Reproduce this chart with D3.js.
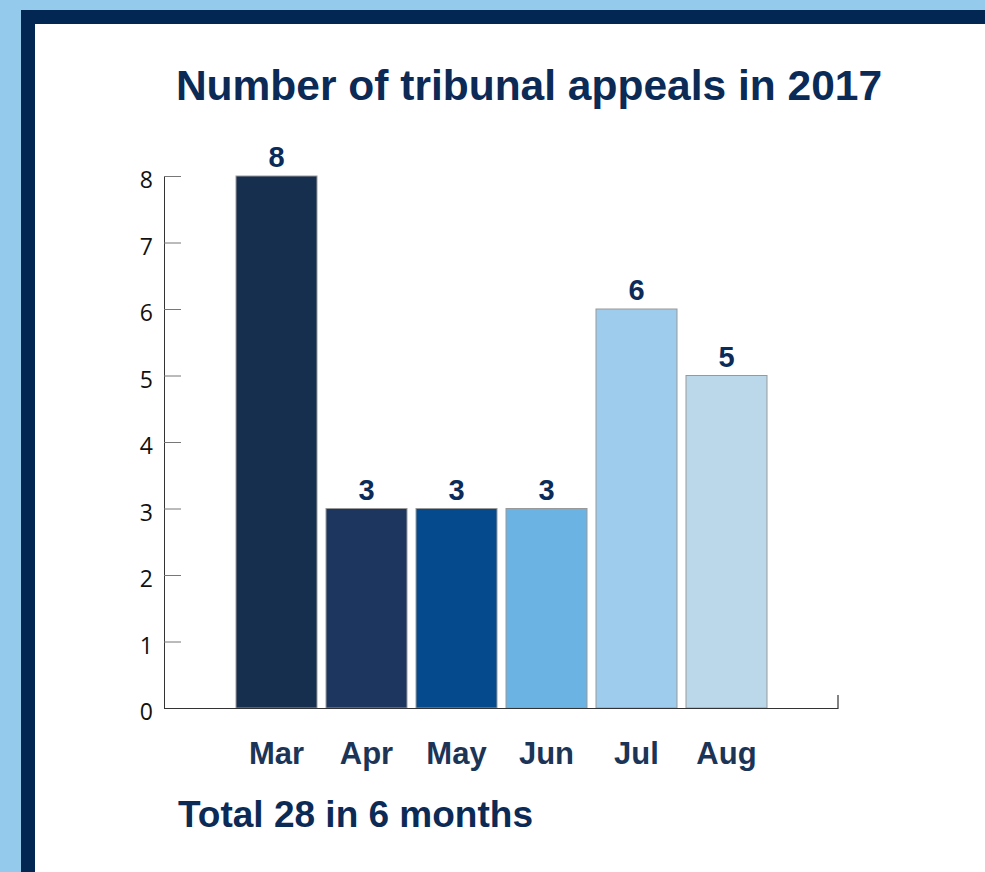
<!DOCTYPE html>
<html>
<head>
<meta charset="utf-8">
<script src="https://cdn.jsdelivr.net/npm/d3@7"></script>
<style>
  html, body { margin: 0; padding: 0; background: #94caec; }
  svg { display: block; }
</style>
</head>
<body>
<div id="chart"></div>
<script>
// data
const months = ['Mar', 'Apr', 'May', 'Jun', 'Jul', 'Aug'];
const appeals = [8, 3, 3, 3, 6, 5];
const barColors = ['#172f4e', '#1d3660', '#054a8d', '#6bb3e3', '#9dcced', '#bbd8eb'];
const yTicks = [0, 1, 2, 3, 4, 5, 6, 7, 8];
const title = 'Number of tribunal appeals in 2017';
const footer = 'Total 28 in 6 months';

const width = 985;
const height = 872;

const svg = d3.select('#chart').append('svg')
    .attr('width', width)
    .attr('height', height);

// frame
svg.append('rect')
    .attr('x', 0).attr('y', 0)
    .attr('width', width).attr('height', height)
    .attr('fill', '#94caec');
svg.append('rect')
    .attr('x', 21).attr('y', 10)
    .attr('width', width).attr('height', height)
    .attr('fill', '#022753');
svg.append('rect')
    .attr('x', 35).attr('y', 24)
    .attr('width', width).attr('height', height)
    .attr('fill', '#ffffff');

const x = d3.scaleBand()
    .domain(months)
    .range([231.5, 771.5])
    .paddingInner(0.1)
    .paddingOuter(0.05);

const y = d3.scaleLinear()
    .domain([0, 8])
    .range([708, 176]);

const axisLeft = 164;
const axisRight = 838;

svg.append('text')
    .attr('x', 529)
    .attr('y', 100)
    .attr('text-anchor', 'middle')
    .attr('font-family', '"Liberation Sans", Arial, sans-serif')
    .attr('font-weight', 'bold')
    .attr('font-size', 42.5)
    .attr('fill', '#0c2a56')
    .text(title);

// y axis, ticks pointing inward
const yAxis = svg.append('g')
    .attr('transform', `translate(${axisLeft},0)`)
    .call(d3.axisLeft(y).tickValues(yTicks).tickSizeInner(-17).tickSizeOuter(0).tickPadding(11));
yAxis.select('.domain').attr('stroke', '#333');
yAxis.selectAll('.tick line').attr('stroke', '#777');
yAxis.selectAll('.tick text')
    .attr('font-family', '"Open Sans", "Liberation Sans", sans-serif')
    .attr('font-size', 23)
    .attr('fill', '#111')
    .attr('dy', '0.5em');

// bars
svg.append('g')
    .selectAll('rect')
    .data(appeals)
    .join('rect')
    .attr('x', (d, i) => x(months[i]))
    .attr('y', d => y(d))
    .attr('width', x.bandwidth())
    .attr('height', d => y(0) - y(d))
    .attr('fill', (d, i) => barColors[i])
    .attr('stroke', '#999')
    .attr('stroke-width', 1);

// baseline with small end tick
svg.append('path')
    .attr('d', `M${axisLeft},${y(0) + 0.5}H${axisRight}V${y(0) - 13}`)
    .attr('fill', 'none')
    .attr('stroke', '#333')
    .attr('stroke-width', 1.2);

// value labels
svg.append('g')
    .selectAll('text')
    .data(appeals)
    .join('text')
    .attr('x', (d, i) => x(months[i]) + x.bandwidth() / 2)
    .attr('y', d => y(d) - 9)
    .attr('text-anchor', 'middle')
    .attr('font-family', '"Liberation Sans", Arial, sans-serif')
    .attr('font-weight', 'bold')
    .attr('font-size', 29)
    .attr('fill', '#0b2c5a')
    .text(d => d);

// month labels
svg.append('g')
    .selectAll('text')
    .data(months)
    .join('text')
    .attr('x', d => x(d) + x.bandwidth() / 2)
    .attr('y', 764)
    .attr('text-anchor', 'middle')
    .attr('font-family', '"Liberation Sans", Arial, sans-serif')
    .attr('font-weight', 'bold')
    .attr('font-size', 31)
    .attr('fill', '#1c3557')
    .text(d => d);

svg.append('text')
    .attr('x', 178)
    .attr('y', 827)
    .attr('font-family', '"Liberation Sans", Arial, sans-serif')
    .attr('font-weight', 'bold')
    .attr('font-size', 37)
    .attr('fill', '#0c2a56')
    .text(footer);
</script>
</body>
</html>
